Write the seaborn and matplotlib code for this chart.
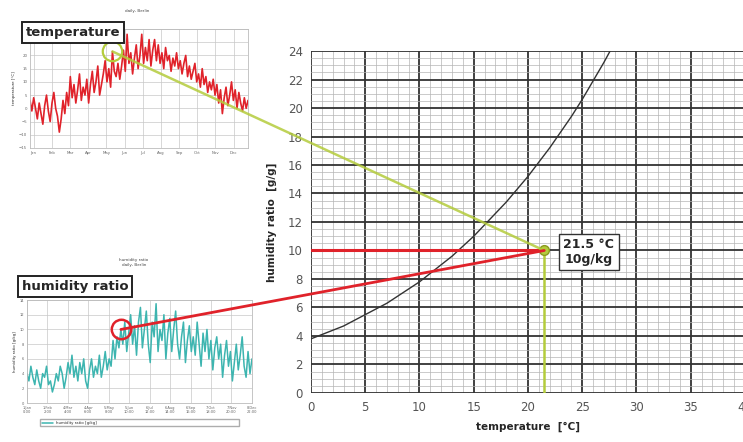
import matplotlib
matplotlib.use("Agg")
import matplotlib.pyplot as plt
from matplotlib.patches import ConnectionPatch
import numpy as np
import pandas as pd
import seaborn as sns

# saturation curve: temperature [C] -> humidity ratio [g/kg]
sat_temp = list(range(0, 29))
sat_w = [3.8, 4.1, 4.4, 4.7, 5.1, 5.5, 5.9, 6.3, 6.8, 7.3, 7.8, 8.4, 9.0, 9.6,
         10.3, 11.0, 11.8, 12.6, 13.4, 14.3, 15.2, 16.2, 17.2, 18.3, 19.4,
         20.6, 21.9, 23.2, 24.6]

# picked state point
pick_temp = 21.5
pick_w = 10.0
pick_day_temp = 45
pick_day_hum = 48

# daily temperature profile (every 3rd day)
temp_series = [
    3, -1, 4, 0, -4, 2, -2, -6, 1, 5,
    -1, -5, 2, 6, 0, -3, -9, -4, 3, -2,
    6, 1, 12, 4, 9, 2, 7, 13, 3, 8,
    5, 11, 2, 9, 14, 6, 10, 16, 5, 9,
    13, 18, 10, 15, 8, 21.5, 14, 12, 17, 11,
    16, 22, 14, 28, 17, 21, 13, 19, 24, 15,
    20, 28, 17, 23, 18, 26, 16, 22, 26, 18,
    24, 17, 21, 15, 23, 18, 20, 14, 19, 16,
    21, 15, 18, 13, 17, 20, 12, 16, 11, 14,
    17, 10, 13, 8, 15, 9, 12, 6, 10, 7,
    11, 5, 9, 2, 7, -2, 4, 8, 1, 5,
    10, 3, 7, 0, 6, 2, -1, 4, 0, 3,
]
month_labels = ["Jan", "Feb", "Mar", "Apr", "May", "Jun",
                "Jul", "Aug", "Sep", "Oct", "Nov", "Dec"]

# daily humidity ratio profile [g/kg]
hum_series = [
    4, 3, 5, 3.5, 2.5, 4.5, 3, 2, 4, 3.5, 5,
    2.5, 3, 1.5, 2.5, 4, 3, 5, 4, 2, 3.5, 5.5,
    4, 6.5, 3.5, 5, 3, 5.5, 4, 6, 3, 2, 4.5,
    6, 3.5, 5, 4, 6.5, 3.5, 5, 7, 4.5, 6, 5,
    8.5, 6, 9, 7.5, 10, 8, 11,
    7, 9.5, 12, 8, 10.5, 6.5, 11, 13, 7.5, 10, 12.5, 8, 5.5, 11, 9, 13.5,
    7, 10, 8.5, 12, 6, 9.5, 11.5, 7, 10, 12.5, 8, 6, 9, 11, 5.5, 8.5,
    10.5, 7, 9, 6.5, 11, 8, 5, 9.5, 7, 10, 6, 8.5, 4.5, 7.5, 9, 6, 8,
    3.5, 6.5, 8.5, 5, 7, 3, 5.5, 8, 4.5, 6.5, 9, 5, 3.5, 7, 4, 6,
]
hum_labels = ["1.Jan\n0:00", "1.Feb\n2:00", "4.Mar\n4:00", "4.Apr\n6:00",
              "5.May\n8:00", "5.Jun\n10:00", "6.Jul\n12:00", "6.Aug\n14:00",
              "6.Sep\n16:00", "7.Oct\n18:00", "7.Nov\n20:00", "8.Dec\n22:00"]

GREEN = "#b4cc3c"
RED = "#e0222a"
TEAL = "#3db5b0"

sns.set_style("white")
plt.rcParams["font.family"] = ["DejaVu Sans"]

fig = plt.figure(figsize=(7.43, 4.42), dpi=100)

# ---------------- main chart ----------------
ax = fig.add_axes([0.4186, 0.1109, 0.584, 0.7737])
sat_df = pd.DataFrame({"temp": sat_temp, "w": sat_w})
sns.lineplot(data=sat_df, x="temp", y="w", ax=ax, color="#333333", lw=1.0)
ax.set_xlim(0, 40)
ax.set_ylim(0, 24)
ax.set_xticks(range(0, 41, 5))
ax.set_xticks(np.arange(0, 41, 1), minor=True)
ax.set_yticks(range(0, 25, 2))
ax.set_yticks(np.arange(0, 24.1, 0.5), minor=True)
ax.grid(which="major", color="#333333", lw=1.3)
ax.grid(which="minor", color="#b5b5b5", lw=0.5)
ax.set_axisbelow(True)
for s in ax.spines.values():
    s.set_visible(False)
ax.tick_params(which="both", length=0, labelsize=8.5, labelcolor="#555555", pad=6)
ax.set_xlabel("temperature  [°C]", fontsize=7.5, fontweight="bold", labelpad=5)
ax.set_ylabel("humidity ratio  [g/g]", fontsize=7.5, fontweight="bold", labelpad=8)

ax.plot([0, pick_temp], [pick_w, pick_w], color=RED, lw=2.2, zorder=4)
ax.plot([pick_temp, pick_temp], [0, pick_w], color=GREEN, lw=1.8, zorder=4)
ax.plot(pick_temp, pick_w, "o", ms=7, mfc=GREEN, mec="#8a9a20", zorder=6)
ax.text(25.6, 9.9, f"{pick_temp} °C\n{pick_w:g}g/kg", ha="center", va="center",
        fontsize=9, fontweight="bold", zorder=7,
        bbox=dict(boxstyle="square,pad=0.35", fc="white", ec="#333333", lw=1))

# ---------------- temperature inset ----------------
ax1 = fig.add_axes([0.0404, 0.6652, 0.2934, 0.2692])
days_t = np.arange(len(temp_series))
sns.lineplot(x=days_t, y=temp_series, ax=ax1, color=RED, lw=1.2)
ax1.set_xlim(0, len(temp_series) - 1)
ax1.set_ylim(-15, 30)
ax1.set_xticks(np.linspace(0, len(temp_series) - 1, 13)[:-1] + 2)
ax1.set_xticklabels(month_labels)
ax1.set_yticks(range(-15, 31, 5))
ax1.grid(color="#c8c8c8", lw=0.5)
ax1.tick_params(length=0, labelsize=2.8, labelcolor="#666666", pad=2)
ax1.set_ylabel("temperature [°C]", fontsize=2.8, labelpad=2)
for s in ax1.spines.values():
    s.set_color("#bbbbbb")
    s.set_linewidth(0.6)
ax1.plot(pick_day_temp, pick_temp, "o", ms=14, mfc="none", mec=GREEN, mew=1.6)
fig.text(0.185, 0.972, "daily, Berlin", fontsize=3, ha="center", color="#444444")
fig.text(0.098, 0.927, "temperature", fontsize=9.5, fontweight="bold",
         ha="center", va="center", zorder=10,
         bbox=dict(boxstyle="square,pad=0.3", fc="white", ec="#222222", lw=1.4))

# ---------------- humidity inset ----------------
ax2 = fig.add_axes([0.0363, 0.0882, 0.3028, 0.2330])
days_h = np.arange(len(hum_series))
sns.lineplot(x=days_h, y=hum_series, ax=ax2, color=TEAL, lw=1.1,
             label="humidity ratio [g/kg]")
ax2.set_xlim(0, len(hum_series) - 1)
ax2.set_ylim(0, 14)
ax2.set_xticks(np.linspace(0, len(hum_series) - 1, 12))
ax2.set_xticklabels(hum_labels)
ax2.set_yticks(range(0, 15, 2))
ax2.grid(color="#c8c8c8", lw=0.5)
ax2.tick_params(length=0, labelsize=2.6, labelcolor="#666666", pad=2)
ax2.set_ylabel("humidity ratio [g/kg]", fontsize=2.8, labelpad=2)
for s in ax2.spines.values():
    s.set_color("#bbbbbb")
    s.set_linewidth(0.6)
ax2.legend(loc="upper center", bbox_to_anchor=(0.05, -0.24, 0.9, 0.1),
           mode="expand", fontsize=2.8, frameon=True, edgecolor="#999999",
           fancybox=False, handlelength=3)
ax2.plot(pick_day_hum, pick_w, "o", ms=14, mfc="none", mec=RED, mew=1.8, zorder=5)
fig.text(0.18, 0.398, "humidity ratio\ndaily, Berlin", fontsize=3, ha="center",
         color="#444444", linespacing=1.3)
fig.text(0.101, 0.351, "humidity ratio", fontsize=9.5, fontweight="bold",
         ha="center", va="center", zorder=10,
         bbox=dict(boxstyle="square,pad=0.3", fc="white", ec="#222222", lw=1.4))

# ---------------- connectors ----------------
con_t = ConnectionPatch(xyA=(pick_day_temp, pick_temp), coordsA=ax1.transData,
                        xyB=(pick_temp, pick_w), coordsB=ax.transData,
                        color=GREEN, lw=1.8, alpha=0.85, zorder=5)
fig.add_artist(con_t)
con_h = ConnectionPatch(xyA=(pick_day_hum, pick_w), coordsA=ax2.transData,
                        xyB=(pick_temp, pick_w), coordsB=ax.transData,
                        color=RED, lw=2.0, zorder=5)
fig.add_artist(con_h)

fig.savefig("out.png", dpi=100)
